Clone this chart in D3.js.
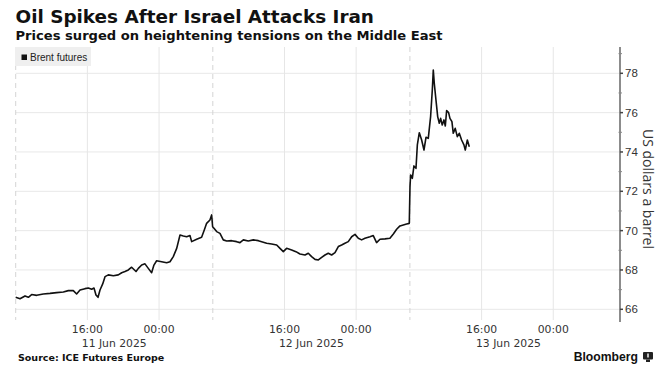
<!DOCTYPE html>
<html>
<head>
<meta charset="utf-8">
<script src="https://cdn.jsdelivr.net/npm/d3@7"></script>
<style>
  body { margin: 0; background: #fff; }
  svg { display: block; }
</style>
</head>
<body>
<div id="chart"></div>
<script>
// trading hours since the first session opened (each session = 22h, gaps dropped)
const hours = [0, 0.48, 1.04, 1.41, 1.78, 2.34, 3.08, 3.83, 4.57, 5.32, 5.87, 6.43, 6.80, 7.18, 7.73, 8.11, 8.48, 8.74, 8.96, 9.19,
  9.41, 9.71, 9.97, 10.34, 10.90, 11.45, 11.83, 12.20, 12.57, 12.94, 13.43, 13.69, 14.06, 14.43, 14.80, 15.17, 15.43, 15.73, 16.29, 16.85,
  17.22, 17.59, 17.97, 18.34, 18.71, 19.08, 19.45, 19.64, 20.20, 20.75, 21.05, 21.31, 21.68, 21.87, 21.98,
  22.13, 22.43, 22.80, 23.17, 23.55, 24.10, 24.66, 25.03, 25.41, 25.96, 26.52, 27.08, 27.45, 28.01, 28.57, 29.13, 29.50, 29.87, 30.24,
  30.80, 31.28, 31.73, 32.29, 32.66, 33.03, 33.41, 33.78, 34.15, 34.52, 34.89, 35.26, 35.64, 36.01, 36.38, 36.75, 37.12, 37.50, 37.87,
  38.24, 38.61, 38.98, 39.54, 39.91, 40.28, 40.66, 41.22, 41.77, 42.15, 42.52, 42.89, 43.26, 43.63, 43.93,
  44.01, 44.08, 44.27, 44.45, 44.68, 44.83, 45.05, 45.31, 45.57, 45.80, 46.05, 46.31, 46.50, 46.61, 46.72, 46.91, 47.10, 47.28, 47.43,
  47.61, 47.80, 47.95, 48.10, 48.32, 48.47, 48.69, 48.84, 49.06, 49.29, 49.51, 49.77, 50.03, 50.18, 50.41, 50.63];

const brent = [66.61, 66.54, 66.68, 66.61, 66.75, 66.71, 66.78, 66.81, 66.85, 66.88, 66.95, 66.95, 66.78, 66.98, 67.05, 67.08, 67.02, 67.08, 66.73, 66.61,
  66.98, 67.29, 67.66, 67.75, 67.71, 67.75, 67.86, 67.92, 68.00, 68.14, 67.92, 68.08, 68.25, 68.31, 68.08, 67.86, 68.25, 68.47, 68.42, 68.37,
  68.42, 68.68, 69.10, 69.78, 69.73, 69.69, 69.75, 69.44, 69.56, 69.66, 70.03, 70.37, 70.54, 70.80, 70.20,
  70.12, 69.95, 69.86, 69.53, 69.47, 69.49, 69.44, 69.39, 69.53, 69.47, 69.53, 69.49, 69.44, 69.36, 69.32, 69.27, 69.10, 68.93, 69.10,
  69.02, 68.93, 68.81, 68.76, 68.85, 68.68, 68.54, 68.51, 68.64, 68.76, 68.85, 68.76, 68.88, 69.19, 69.27, 69.36, 69.44, 69.69, 69.81,
  69.61, 69.53, 69.61, 69.69, 69.75, 69.39, 69.56, 69.58, 69.61, 69.83, 70.07, 70.24, 70.29, 70.34, 70.37,
  72.24, 72.83, 72.66, 73.29, 73.17, 74.36, 74.98, 74.61, 74.10, 74.75, 74.69, 75.80, 77.15, 78.17, 77.49, 76.64, 75.80, 75.46, 75.71,
  75.37, 75.63, 75.32, 76.10, 76.00, 75.71, 75.54, 74.95, 75.20, 74.78, 74.95, 74.61, 74.36, 74.10, 74.61, 74.27];

const sessions = ['11 Jun 2025', '12 Jun 2025', '13 Jun 2025'];
const sessionLen = 22;
const tickOffsets = [8, 16];
const tickLabels = ['16:00', '00:00'];
const yTicks = [66, 68, 70, 72, 74, 76, 78];
const yMinor = [67, 69, 71, 73, 75, 77, 79];

const width = 668, height = 374;
const margin = ({top: 47, right: 48, bottom: 54, left: 15.7});

const svg = d3.create('svg')
    .attr('width', width)
    .attr('height', height);

const xScale = d3.scaleLinear()
    .domain([0, 67.45])
    .range([margin.left, width - margin.right]);

const yScale = d3.scaleLinear()
    .domain([66, 78])
    .range([309.3, 73.3]);

const plotBottom = 320;
const axisX = width - margin.right;

// horizontal grid
svg.append('g')
    .selectAll('line')
    .data(yTicks)
    .join('line')
    .attr('x1', margin.left)
    .attr('x2', axisX)
    .attr('y1', d => yScale(d))
    .attr('y2', d => yScale(d))
    .attr('stroke', '#e8e8e8')
    .attr('stroke-width', 1);

// vertical grid: time ticks solid, session starts dashed
const timeTicks = [];
sessions.forEach((s, i) => tickOffsets.forEach((o, j) => timeTicks.push({t: i * sessionLen + o, label: tickLabels[j]})));

svg.append('g')
    .selectAll('line')
    .data(timeTicks)
    .join('line')
    .attr('x1', d => xScale(d.t))
    .attr('x2', d => xScale(d.t))
    .attr('y1', margin.top)
    .attr('y2', plotBottom)
    .attr('stroke', '#e6e6e6')
    .attr('stroke-width', 1);

svg.append('g')
    .selectAll('line')
    .data(sessions)
    .join('line')
    .attr('x1', (d, i) => xScale(i * sessionLen))
    .attr('x2', (d, i) => xScale(i * sessionLen))
    .attr('y1', margin.top)
    .attr('y2', plotBottom)
    .attr('stroke', '#d4d4d4')
    .attr('stroke-width', 1)
    .attr('stroke-dasharray', '5,4');

// x labels
svg.append('g')
    .selectAll('text')
    .data(timeTicks)
    .join('text')
    .attr('x', d => xScale(d.t))
    .attr('y', 333)
    .attr('text-anchor', 'middle')
    .attr('font-family', 'DejaVu Sans')
    .attr('font-size', 10.8)
    .attr('fill', '#333')
    .text(d => d.label);

svg.append('g')
    .selectAll('text')
    .data(sessions)
    .join('text')
    .attr('x', (d, i) => xScale(i * sessionLen + sessionLen / 2))
    .attr('y', 347)
    .attr('text-anchor', 'middle')
    .attr('font-family', 'DejaVu Sans')
    .attr('font-size', 10.8)
    .attr('fill', '#333')
    .text(d => d);

// right axis
const yAxis = svg.append('g')
    .attr('transform', `translate(${axisX},0)`);

yAxis.append('line')
    .attr('y1', margin.top)
    .attr('y2', 322)
    .attr('stroke', '#666')
    .attr('stroke-width', 1.5);

yAxis.selectAll('.major')
    .data(yTicks)
    .join('line')
    .attr('class', 'major')
    .attr('x1', 0).attr('x2', 3)
    .attr('y1', d => yScale(d)).attr('y2', d => yScale(d))
    .attr('stroke', '#444').attr('stroke-width', 1.5);

yAxis.selectAll('.minor')
    .data(yMinor.filter(d => yScale(d) > margin.top))
    .join('line')
    .attr('class', 'minor')
    .attr('x1', -1.5).attr('x2', 2)
    .attr('y1', d => yScale(d)).attr('y2', d => yScale(d))
    .attr('stroke', '#888').attr('stroke-width', 1);

yAxis.selectAll('text')
    .data(yTicks)
    .join('text')
    .attr('x', 5)
    .attr('y', d => yScale(d) + 4)
    .attr('font-family', 'Liberation Sans, Arial')
    .attr('font-size', 11.5)
    .attr('fill', '#333')
    .text(d => d);

svg.append('text')
    .attr('transform', `translate(642.5,189) rotate(90)`)
    .attr('text-anchor', 'middle')
    .attr('font-family', 'Open Sans')
    .attr('font-size', 14)
    .attr('fill', '#333')
    .text('US dollars a barrel');

// price line
const points = hours.map((h, i) => [h, brent[i]]);
const line = d3.line()
    .x(d => xScale(d[0]))
    .y(d => yScale(d[1]));

svg.append('path')
    .datum(points)
    .attr('d', line)
    .attr('fill', 'none')
    .attr('stroke', '#111')
    .attr('stroke-width', 1.6)
    .attr('stroke-linejoin', 'round');

// legend
const legend = svg.append('g');
legend.append('rect')
    .attr('x', 15).attr('y', 47)
    .attr('width', 76).attr('height', 19)
    .attr('fill', '#efefef');
legend.append('rect')
    .attr('x', 21.5).attr('y', 54.5)
    .attr('width', 5.5).attr('height', 5.5)
    .attr('fill', '#111');
legend.append('text')
    .attr('x', 30).attr('y', 60.5)
    .attr('font-family', 'Liberation Sans, Arial')
    .attr('font-size', 10)
    .attr('fill', '#222')
    .text('Brent futures');

// titles
svg.append('text')
    .attr('x', 15.5).attr('y', 23)
    .attr('font-family', 'DejaVu Sans')
    .attr('font-weight', 'bold')
    .attr('font-size', 18.4)
    .attr('fill', '#111')
    .text('Oil Spikes After Israel Attacks Iran');

svg.append('text')
    .attr('x', 15.5).attr('y', 40)
    .attr('font-family', 'DejaVu Sans')
    .attr('font-weight', 'bold')
    .attr('font-size', 13.1)
    .attr('fill', '#111')
    .text('Prices surged on heightening tensions on the Middle East');

// footer
svg.append('text')
    .attr('x', 18).attr('y', 361)
    .attr('font-family', 'DejaVu Sans')
    .attr('font-weight', 'bold')
    .attr('font-size', 9.5)
    .attr('fill', '#111')
    .text('Source: ICE Futures Europe');

svg.append('text')
    .attr('x', 638).attr('y', 361)
    .attr('text-anchor', 'end')
    .attr('font-family', 'Liberation Sans, Arial')
    .attr('font-weight', 'bold')
    .attr('font-size', 12.2)
    .attr('fill', '#111')
    .text('Bloomberg');

const logo = svg.append('g').attr('transform', 'translate(643,352)');
logo.append('rect').attr('x', 0).attr('y', 0).attr('width', 10).attr('height', 7.5).attr('rx', 1).attr('fill', '#222');
logo.append('rect').attr('x', 3).attr('y', 7.5).attr('width', 4).attr('height', 2.5).attr('fill', '#222');
logo.append('rect').attr('x', 4.3).attr('y', 1.5).attr('width', 1.4).attr('height', 4).attr('fill', '#fff');

document.getElementById('chart').appendChild(svg.node());
</script>
</body>
</html>
